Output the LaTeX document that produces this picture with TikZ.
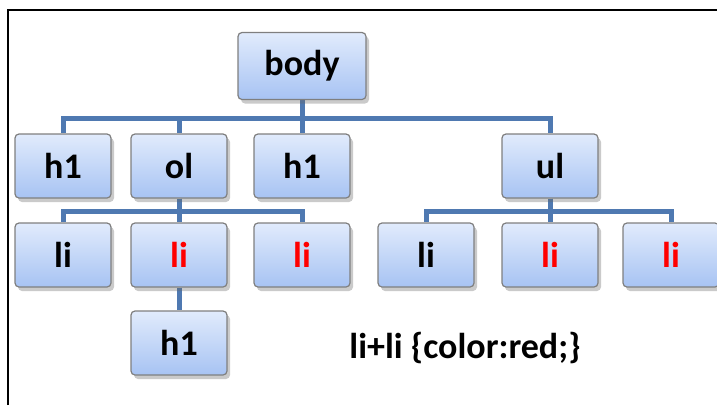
\documentclass[tikz,border=0pt]{standalone}
\usepackage{fontspec}
\setmainfont{Carlito}
\usetikzlibrary{shadows,backgrounds}
\definecolor{boxtop}{HTML}{E1EBFC}
\definecolor{boxbot}{HTML}{A7C3F3}
\definecolor{boxline}{HTML}{7F7F7F}
\definecolor{conn}{HTML}{4F79B1}
\begin{document}
\begin{tikzpicture}[x=1pt,y=-1pt,
  tag/.style={draw=boxline, line width=1.2pt, rounded corners=4pt,
    top color=boxtop, bottom color=boxbot, minimum width=96pt, minimum height=64pt,
    inner sep=0pt, font=\bfseries\fontsize{36}{40}\selectfont,
    drop shadow={shadow xshift=3pt, shadow yshift=-4pt, opacity=0.35, fill=black!60}},
  redtag/.style={tag, text=red},
  link/.style={draw=conn, line width=5pt},
  linkshadow/.style={draw=black, opacity=0.15, line width=5pt}]
\useasboundingbox (0,0) rectangle (717,405);
\draw[line width=2pt] (8,405) -- (8,10) -- (717,10);
% nodes
\node[tag, minimum width=128pt, minimum height=67pt] (body) at (302,66) {body};
\node[tag] (h1a) at (63,166) {h1};
\node[tag] (ol) at (179,166) {ol};
\node[tag] (h1b) at (302,166) {h1};
\node[tag] (ul) at (550,166) {ul};
\node[tag] (li1) at (63,255) {li};
\node[redtag] (li2) at (179,255) {li};
\node[redtag] (li3) at (302,255) {li};
\node[tag] (li4) at (426,255) {li};
\node[redtag] (li5) at (550,255) {li};
\node[redtag] (li6) at (671,255) {li};
\node[tag] (h1c) at (179,343) {h1};
% connectors
\begin{scope}[on background layer]
\begin{scope}[xshift=2pt, yshift=-3pt]
\foreach \c in {h1a,ol,h1b,ul} \draw[linkshadow] (body.south) -- ++(0,18) -| (\c.north);
\foreach \c in {li1,li2,li3} \draw[linkshadow] (ol.south) -- ++(0,13) -| (\c.north);
\foreach \c in {li4,li5,li6} \draw[linkshadow] (ul.south) -- ++(0,13) -| (\c.north);
\draw[linkshadow] (li2.south) -- (h1c.north);
\end{scope}
\foreach \c in {h1a,ol,h1b,ul} \draw[link] (body.south) -- ++(0,18) -| (\c.north);
\foreach \c in {li1,li2,li3} \draw[link] (ol.south) -- ++(0,13) -| (\c.north);
\foreach \c in {li4,li5,li6} \draw[link] (ul.south) -- ++(0,13) -| (\c.north);
\draw[link] (li2.south) -- (h1c.north);
\end{scope}
% label
\node[font=\bfseries\fontsize{36}{40}\selectfont] (rule) at (465,348) {li+li \{color:red;\}};
\end{tikzpicture}
\end{document}
